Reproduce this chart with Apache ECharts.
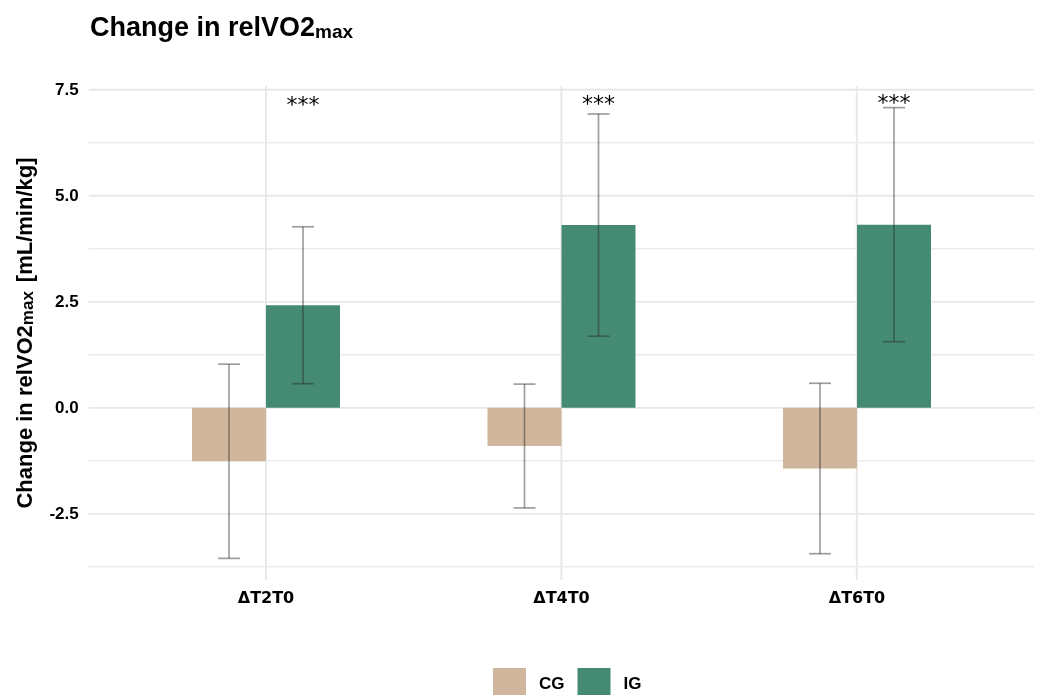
<!DOCTYPE html>
<html>
<head>
<meta charset="utf-8">
<script src="https://cdn.jsdelivr.net/npm/echarts@6/dist/echarts.min.js"></script>
<style>
  html, body { margin: 0; padding: 0; background: #ffffff; }
  #chart { width: 1038px; height: 695px; }
</style>
</head>
<body>
<div id="chart"></div>
<script>
// Change in relative VO2max by time point and group (mean ± SD)
const categories = ['ΔT2T0', 'ΔT4T0', 'ΔT6T0'];
const groups = ['CG', 'IG'];
const cgMean = [-1.26, -0.90, -1.43];
const cgSD = [2.29, 1.46, 2.01];
const igMean = [2.42, 4.31, 4.32];
const igSD = [1.85, 2.62, 2.76];
const sigLabels = ['***', '***', '***'];
const sigY = [7.12, 7.14, 7.16];
const yTicks = [-2.5, 0, 2.5, 5, 7.5];
const yMinorTicks = [-3.75, -1.25, 1.25, 3.75, 6.25];
const yMin = -4.06;
const yMax = 7.59;

const FONT = "'Liberation Sans', Arial, Helvetica, sans-serif";
const colors = { CG: '#CFB69C', IG: '#458B73' };
const BAR_W = 74;
const GRID_TOP = 86, GRID_BOTTOM = 115;

const chart = echarts.init(document.getElementById('chart'), null, { renderer: 'canvas' });

function errData(mean, sd) {
  return mean.map((m, i) => [i, m - sd[i], m + sd[i]]);
}

function errorBarRenderer(offset) {
  return function (params, api) {
    const lo = api.coord([api.value(0), api.value(1)]);
    const hi = api.coord([api.value(0), api.value(2)]);
    const x = lo[0] + offset;
    const cap = 11;
    const style = { stroke: 'rgba(40,40,40,0.45)', lineWidth: 1.7 };
    return {
      type: 'group',
      children: [
        { type: 'line', shape: { x1: x, y1: lo[1], x2: x, y2: hi[1] }, style },
        { type: 'line', shape: { x1: x - cap, y1: lo[1], x2: x + cap, y2: lo[1] }, style },
        { type: 'line', shape: { x1: x - cap, y1: hi[1], x2: x + cap, y2: hi[1] }, style }
      ]
    };
  };
}

function hLineRenderer(width, color) {
  return function (params, api) {
    const a = api.coord([0.4, api.value(0)]);
    const b = api.coord([3.6, api.value(0)]);
    return { type: 'line', shape: { x1: a[0], y1: a[1], x2: b[0], y2: b[1] }, style: { stroke: color, lineWidth: width } };
  };
}

const option = {
  backgroundColor: '#ffffff',
  animation: false,
  title: {
    left: 90,
    top: 10,
    padding: 0,
    text: '{a|Change in relVO2}{s|max}',
    textStyle: {
      rich: {
        a: { fontFamily: FONT, fontWeight: 'bold', fontSize: 27, color: '#000', lineHeight: 32, verticalAlign: 'bottom' },
        s: { fontFamily: FONT, fontWeight: 'bold', fontSize: 19, color: '#000', lineHeight: 19, verticalAlign: 'bottom' }
      }
    }
  },
  legend: {
    data: groups,
    left: 493,
    top: 668,
    padding: 0,
    icon: 'rect',
    itemWidth: 33,
    itemHeight: 33,
    itemGap: 13,
    selectedMode: false,
    textStyle: { fontFamily: FONT, fontWeight: 'bold', fontSize: 17, color: '#000', padding: [0, 0, 0, 8] }
  },
  grid: [
    { left: 88.7, right: 4, top: GRID_TOP, bottom: GRID_BOTTOM },
    { left: 118.25, right: 33.25, top: GRID_TOP, bottom: GRID_BOTTOM }
  ],
  xAxis: [
    { type: 'value', gridIndex: 0, min: 0.4, max: 3.6, show: false },
    {
      type: 'category', gridIndex: 1, data: categories,
      axisLine: { show: false }, axisTick: { show: false }, splitLine: { show: false },
      axisLabel: {
        margin: 11,
        fontFamily: "'DejaVu Sans', sans-serif", fontWeight: 'bold', fontSize: 16, color: '#000'
      }
    }
  ],
  yAxis: [
    {
      type: 'value', gridIndex: 0, min: yMin, max: yMax,
      axisLine: { show: false }, axisTick: { show: false }, splitLine: { show: false },
      axisLabel: {
        customValues: yTicks,
        formatter: v => v.toFixed(1),
        fontFamily: FONT, fontWeight: 'bold', fontSize: 17, color: '#000', margin: 10
      },
      name: '{a|Change in relVO2}{s|max}{b|[mL/min/kg]}',
      nameLocation: 'middle',
      nameGap: 52,
      nameTextStyle: {
        rich: {
          a: { fontFamily: FONT, fontWeight: 'bold', fontSize: 22, color: '#000', lineHeight: 27, verticalAlign: 'bottom' },
          s: { fontFamily: FONT, fontWeight: 'bold', fontSize: 17, color: '#000', lineHeight: 17, verticalAlign: 'bottom' },
          b: { fontFamily: FONT, fontWeight: 'bold', fontSize: 22, color: '#000', lineHeight: 27, verticalAlign: 'bottom', padding: [0, 0, 0, 9] }
        }
      }
    },
    { type: 'value', gridIndex: 1, min: yMin, max: yMax, show: false, splitLine: { show: false } }
  ],
  series: [
    {
      name: 'grid-minor', type: 'custom', xAxisIndex: 0, yAxisIndex: 0, z: 0, silent: true,
      data: yMinorTicks.map(v => [v]),
      renderItem: hLineRenderer(1.5, '#EBEBEB')
    },
    {
      name: 'grid-major', type: 'custom', xAxisIndex: 0, yAxisIndex: 0, z: 0, silent: true,
      data: yTicks.map(v => [v]),
      renderItem: hLineRenderer(1.9, '#E8E8E8')
    },
    {
      name: 'grid-vertical', type: 'custom', xAxisIndex: 0, yAxisIndex: 0, z: 0, silent: true,
      data: categories.map((c, i) => [i + 1]),
      renderItem: function (params, api) {
        const a = api.coord([api.value(0), yMin]);
        const b = api.coord([api.value(0), yMax]);
        return { type: 'line', shape: { x1: a[0], y1: a[1], x2: b[0], y2: b[1] }, style: { stroke: '#E8E8E8', lineWidth: 1.9 } };
      }
    },
    {
      name: 'CG', type: 'bar', xAxisIndex: 1, yAxisIndex: 1, z: 2,
      data: cgMean, barWidth: BAR_W, barGap: '0%',
      itemStyle: { color: colors.CG }
    },
    {
      name: 'IG', type: 'bar', xAxisIndex: 1, yAxisIndex: 1, z: 2,
      data: igMean, barWidth: BAR_W, barGap: '0%',
      itemStyle: { color: colors.IG }
    },
    {
      name: 'CG-sd', type: 'custom', xAxisIndex: 1, yAxisIndex: 1, z: 3, silent: true,
      data: errData(cgMean, cgSD), encode: { x: 0, y: [1, 2] },
      renderItem: errorBarRenderer(-BAR_W / 2)
    },
    {
      name: 'IG-sd', type: 'custom', xAxisIndex: 1, yAxisIndex: 1, z: 3, silent: true,
      data: errData(igMean, igSD), encode: { x: 0, y: [1, 2] },
      renderItem: errorBarRenderer(BAR_W / 2)
    },
    {
      name: 'significance', type: 'custom', xAxisIndex: 1, yAxisIndex: 1, z: 4, silent: true,
      data: sigY.map((y, i) => [i, y]),
      renderItem: function (params, api) {
        const p = api.coord([api.value(0), api.value(1)]);
        return {
          type: 'text',
          style: {
            x: p[0] + BAR_W / 2, y: p[1],
            text: sigLabels[params.dataIndex],
            fill: '#000',
            font: "22px 'DejaVu Sans', sans-serif",
            align: 'center', verticalAlign: 'middle'
          }
        };
      }
    }
  ]
};

chart.setOption(option);
</script>
</body>
</html>
